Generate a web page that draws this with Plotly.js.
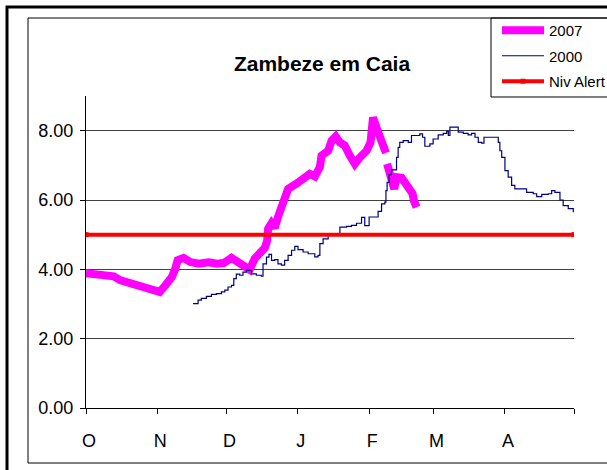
<!DOCTYPE html>
<html>
<head>
<meta charset="utf-8">
<script src="https://cdn.plot.ly/plotly-3.0.1.min.js"></script>
<style>html,body{margin:0;padding:0;background:#fff;}#chart{width:607px;height:470px;}</style>
</head>
<body>
<div id="chart"></div>
<script>
// Days counted from 1 October; levels in metres
const monthTickDays = [0, 31, 61, 92, 123, 151, 182, 212];
const monthTickLabels = ['O', 'N', 'D', 'J', 'F', 'M', 'A', ''];

const days2007 = [0, 5, 9, 12, 15, 18, 21, 24, 27, 30, 32, 34.5, 37.3, 38.8, 39.8, 42.4, 45.3, 49, 53.3, 56.9, 59.8, 63.2, 66, 69, 71.1, 73.3, 75.5, 77.7, 78.7, 79.1, 80.6, 82, 83.4, 85.6, 87.8, 91.4, 94.3, 97.2, 99.4, 101.6, 102.3, 105.2, 106.7, 108.5, 110.3, 112.4, 114.6, 116.8, 119, 121.9, 123.6, 124, 124.7, 126.2, 127.4, 128.4, 129.1, 130.3, 130.55, 130.8, 132, 133.4, 133.9, 134.9, 137.1, 138.5, 140.7, 141.9, 142.4, 143.6];
const level2007 = [3.89, 3.85, 3.83, 3.80, 3.68, 3.62, 3.56, 3.52, 3.46, 3.37, 3.35, 3.54, 3.78, 4.02, 4.26, 4.33, 4.21, 4.16, 4.20, 4.16, 4.18, 4.33, 4.21, 4.12, 3.99, 4.31, 4.50, 4.62, 4.83, 5.17, 5.33, 5.20, 5.51, 5.99, 6.32, 6.47, 6.61, 6.75, 6.68, 6.95, 7.28, 7.42, 7.71, 7.83, 7.66, 7.57, 7.28, 7.04, 7.23, 7.42, 7.66, 8.29, 8.38, 8.09, 7.85, 7.62, 7.42, 7.36, null, 7.04, 6.71, 6.47, 6.32, 6.66, 6.64, 6.51, 6.32, 6.18, 5.99, 5.79];

const days2000 = [46.5, 48.7, 50.1, 52.3, 54.5, 56.7, 58.8, 60.3, 61.7, 63.2, 64.2, 65.3, 66.8, 68.2, 69.7, 71.9, 74, 76.2, 76.9, 78.4, 79.5, 80.6, 82, 83.4, 84.9, 86.3, 87.8, 89.3, 90.7, 92.1, 94.3, 96.5, 99.4, 100.8, 101.6, 103, 105.2, 108.1, 110.3, 113.2, 115.3, 117.5, 119.7, 121.1, 123, 125.5, 126.9, 128.4, 129.8, 130.3, 130.8, 131.7, 132.7, 134.9, 135.6, 136.3, 137.8, 140, 141.4, 145, 146.2, 147.2, 149.4, 150.8, 153, 155.2, 156.7, 157.4, 158.1, 160.3, 161.7, 163.9, 166, 167.5, 169, 170.4, 171.9, 172.9, 176.9, 179.1, 179.8, 180.6, 182, 183.4, 184.9, 186.3, 188.5, 191.4, 194.3, 195.8, 198, 200.8, 202.3, 203.7, 205.9, 207.3, 209.5, 211.7];
const level2000 = [3.01, 3.11, 3.16, 3.22, 3.28, 3.30, 3.35, 3.40, 3.49, 3.54, 3.73, 3.86, 3.83, 3.92, 3.97, 3.87, 3.83, 3.80, 4.16, 4.35, 4.43, 4.26, 4.28, 4.16, 4.12, 4.26, 4.40, 4.55, 4.66, 4.57, 4.50, 4.45, 4.36, 4.40, 4.74, 4.88, 4.98, 5.02, 5.22, 5.24, 5.27, 5.33, 5.50, 5.26, 5.51, 5.51, 5.67, 5.89, 5.94, 6.27, 6.51, 6.73, 6.87, 7.23, 7.52, 7.66, 7.71, 7.66, 7.86, 7.91, 7.81, 7.55, 7.62, 7.76, 7.88, 7.92, 7.98, 7.86, 8.10, 8.10, 7.96, 7.92, 7.88, 7.92, 7.81, 7.66, 7.64, 7.81, 7.81, 7.66, 7.42, 7.23, 6.85, 6.66, 6.42, 6.32, 6.32, 6.22, 6.18, 6.10, 6.16, 6.18, 6.27, 6.22, 6.00, 5.84, 5.75, 5.65];

const alertDays = [0, 212];
const alertLevel = [5.0, 5.0];

const seriesNames = ['2007', '2000', 'Niv Alert'];
const titleText = 'Zambeze em Caia';
const yTicks = [0, 2, 4, 6, 8];

const FONT = 'Liberation Sans, Arial, sans-serif';

const traces = [
  {x: days2007, y: level2007, name: seriesNames[0], type: 'scatter', mode: 'lines',
   line: {color: '#FF00FF', width: 8}, connectgaps: false, legendgroup: 'a'},
  {x: days2000, y: level2000, name: seriesNames[1], type: 'scatter', mode: 'lines',
   line: {color: '#000080', width: 1.2, shape: 'hv'}, legendgroup: 'b'},
  {x: alertDays, y: alertLevel, name: seriesNames[2], type: 'scatter', mode: 'lines+markers',
   line: {color: '#FF0000', width: 4}, marker: {symbol: 'square', size: 5, color: '#FF0000'}, legendgroup: 'c'}
];

const W = 607, H = 470, L = 86, R = 33, T = 96, B = 62;
const pw = W - L - R, ph = H - T - B;
const px = v => (v - L) / pw;
const py = v => (H - B - v) / ph;

const layout = {
  width: W, height: H,
  margin: {l: L, r: R, t: T, b: B, pad: 0, autoexpand: false},
  paper_bgcolor: '#fff', plot_bgcolor: '#fff',
  font: {family: FONT, size: 18, color: '#000'},
  title: {text: '<b>' + titleText + '</b>', font: {family: FONT, size: 21, color: '#000'},
          xref: 'paper', x: px(322), xanchor: 'center', yref: 'container', y: 1 - 64 / H, yanchor: 'middle'},
  showlegend: true,
  legend: {x: px(497), y: py(14), xanchor: 'left', yanchor: 'top', bgcolor: 'rgba(0,0,0,0)',
           borderwidth: 0, font: {family: FONT, size: 15, color: '#000'}, tracegroupgap: 3,
           itemwidth: 42},
  xaxis: {range: [0, 212], tickmode: 'array', tickvals: monthTickDays, ticktext: monthTickLabels,
          showgrid: false, zeroline: false, showline: true, linecolor: '#000', linewidth: 1,
          ticks: 'outside', ticklen: 5, tickcolor: '#000', tickwidth: 1,
          ticklabelshift: 3, ticklabelstandoff: 11, tickfont: {family: FONT, size: 18, color: '#000'},
          fixedrange: true},
  yaxis: {range: [0, 9], tickmode: 'array', tickvals: yTicks, tickformat: '.2f',
          showgrid: true, gridcolor: '#404040', gridwidth: 1, zeroline: false,
          showline: true, linecolor: '#000', linewidth: 1,
          ticks: 'outside', ticklen: 5, tickcolor: '#000', tickwidth: 1,
          ticklabelstandoff: 3, tickfont: {family: FONT, size: 18, color: '#000'},
          fixedrange: true},
  shapes: [
    {type: 'rect', xref: 'paper', yref: 'paper', x0: px(7), x1: px(640), y0: py(7), y1: py(500),
     line: {color: '#000', width: 3}, fillcolor: 'rgba(0,0,0,0)', layer: 'above'},
    {type: 'rect', xref: 'paper', yref: 'paper', x0: px(28), x1: px(640), y0: py(18), y1: py(463),
     line: {color: '#000', width: 1}, fillcolor: 'rgba(0,0,0,0)', layer: 'above'},
    {type: 'rect', xref: 'paper', yref: 'paper', x0: px(491), x1: px(640), y0: py(18), y1: py(97),
     line: {color: '#000', width: 1}, fillcolor: 'rgba(0,0,0,0)', layer: 'above'}
  ],
  hovermode: false
};

Plotly.newPlot('chart', traces, layout, {displayModeBar: false, staticPlot: true});
</script>
</body>
</html>
